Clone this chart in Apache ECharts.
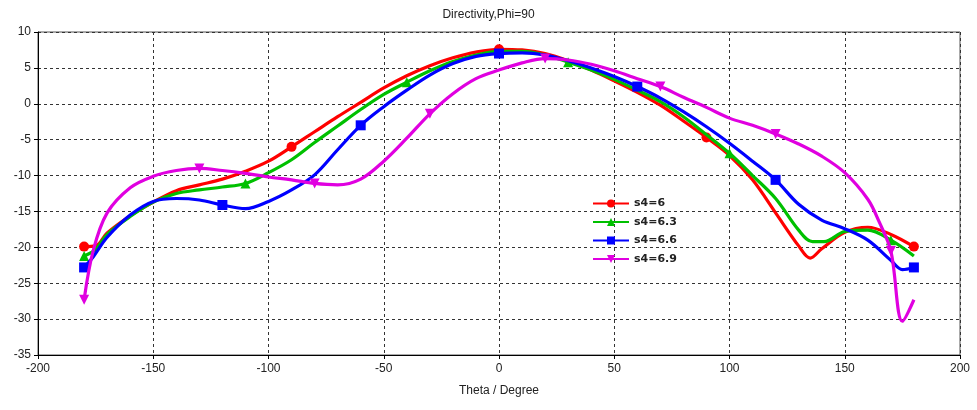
<!DOCTYPE html>
<html>
<head>
<meta charset="utf-8">
<script src="https://cdn.jsdelivr.net/npm/echarts@6/dist/echarts.min.js"></script>
<style>html,body{margin:0;padding:0;background:#fff;}#c{width:977px;height:410px;}</style>
</head>
<body>
<div id="c"></div>
<script>
var seriesNames = ['s4=6', 's4=6.3', 's4=6.6', 's4=6.9'];
var xTicks = [-200, -150, -100, -50, 0, 50, 100, 150, 200];
var yTicks = [-35, -30, -25, -20, -15, -10, -5, 0, 5, 10];

var theta1 = [-180,-175,-170,-160,-150,-140,-130,-120,-110,-100,-90,-80,-70,-60,-50,-40,-30,-20,-10,0,10,20,30,40,50,60,70,80,90,100,110,120,130,135,140,150,160,170,180];
var dir1   = [-19.9,-19.8,-18.0,-15.6,-13.7,-12.1,-11.3,-10.5,-9.4,-8.0,-6.0,-3.9,-1.8,0.2,2.2,3.9,5.3,6.4,7.2,7.6,7.5,7.0,6.0,4.7,3.2,1.6,-0.2,-2.4,-4.7,-7.2,-10.6,-15.2,-19.8,-21.5,-20.2,-17.9,-17.2,-18.2,-19.9];
var marks1 = [-180,-90,0,90,180];

var theta2 = [-180,-175,-170,-160,-150,-140,-130,-120,-110,-100,-90,-80,-70,-60,-50,-40,-30,-20,-10,0,10,20,30,40,50,60,70,80,90,100,110,120,130,136,141,150,160,170,180];
var dir2   = [-21.2,-20.3,-18.2,-15.7,-13.7,-12.5,-12.0,-11.6,-11.1,-9.6,-7.8,-5.4,-3.1,-0.8,1.3,3.0,4.6,5.9,6.8,7.3,7.3,6.8,5.8,4.7,3.4,1.9,0.3,-1.8,-4.3,-6.9,-10.0,-13.2,-17.6,-19.2,-19.2,-17.8,-17.6,-19.0,-21.2];
var marks2 = [-180,-110,-40,30,100,170];

var theta3 = [-180,-176,-170,-160,-150,-140,-130,-120,-110,-100,-90,-80,-70,-60,-50,-40,-30,-20,-10,0,10,20,30,40,50,60,70,80,90,100,110,120,130,140,150,160,170,175,180];
var dir3   = [-22.8,-21.3,-18.6,-15.5,-13.6,-13.2,-13.4,-14.1,-14.6,-13.6,-12.0,-9.9,-6.4,-3.0,-0.4,1.9,4.0,5.6,6.6,7.0,7.1,6.8,6.0,5.0,3.8,2.4,0.8,-1.1,-3.2,-5.5,-8.0,-10.6,-14.0,-16.2,-17.4,-19.0,-21.8,-23.1,-22.8];
var marks3 = [-180,-120,-60,0,60,120,180];

var theta4 = [-180,-176,-170,-160,-150,-140,-130,-120,-110,-100,-90,-80,-70,-60,-50,-40,-30,-20,-10,0,10,20,30,40,50,60,70,80,90,100,110,120,130,140,150,160,165,170,175,180];
var dir4   = [-27.3,-20.4,-15.2,-11.7,-10.1,-9.3,-9.0,-9.3,-9.7,-10.2,-10.6,-11.1,-11.3,-10.5,-8.0,-4.8,-1.4,1.4,3.5,4.7,5.7,6.3,6.1,5.5,4.6,3.5,2.4,0.9,-0.5,-2.0,-3.0,-4.2,-5.6,-7.3,-9.6,-13.3,-16.5,-20.5,-30.3,-27.3];
var marks4 = [-180,-130,-80,-30,20,70,120,170];

var colors = ['#ff0000', '#00c000', '#0000ff', '#e000e0'];
var symbols = ['circle', 'triangle', 'rect', 'triangle'];
var rotations = [0, 0, 0, 180];

function build(th, v, marks) {
  return th.map(function (t, i) {
    var item = { value: [t, v[i]] };
    if (marks.indexOf(t) < 0) item.symbol = 'none';
    return item;
  });
}
var all = [[theta1, dir1, marks1], [theta2, dir2, marks2], [theta3, dir3, marks3], [theta4, dir4, marks4]];

var chart = echarts.init(document.getElementById('c'));
var series = all.map(function (s, k) {
  return {
    name: seriesNames[k],
    type: 'line',
    smooth: 0.35,
    data: build(s[0], s[1], s[2]),
    symbol: symbols[k],
    symbolRotate: rotations[k],
    symbolSize: 10,
    showAllSymbol: true,
    lineStyle: { color: colors[k], width: 3.2 },
    itemStyle: { color: colors[k] },
    z: 2 + k,
    animation: false
  };
});

chart.setOption({
  animation: false,
  backgroundColor: '#fff',
  title: {
    text: 'Directivity,Phi=90',
    left: 'center',
    top: 4,
    textStyle: { fontFamily: 'Liberation Sans', fontSize: 12, fontWeight: 'normal', color: '#222' }
  },
  legend: {
    orient: 'vertical',
    left: 587,
    top: 193,
    itemWidth: 36,
    itemHeight: 10,
    itemGap: 7.5,
    textStyle: { fontFamily: 'DejaVu Sans', fontSize: 11, fontWeight: 'bold', color: '#222' },
    data: seriesNames
  },
  grid: {
    left: 38, right: 17, top: 32, bottom: 55,
    show: true, borderColor: '#555', borderWidth: 1, containLabel: false
  },
  xAxis: {
    type: 'value',
    min: xTicks[0], max: xTicks[xTicks.length - 1], interval: 50,
    name: 'Theta / Degree',
    nameLocation: 'middle',
    nameGap: 30,
    nameTextStyle: { fontFamily: 'Liberation Sans', fontSize: 12, color: '#222' },
    axisLine: { onZero: false, lineStyle: { color: '#000' } },
    axisTick: { show: true, length: 4, lineStyle: { color: '#000' } },
    axisLabel: { fontFamily: 'Liberation Sans', fontSize: 12, color: '#222', margin: 8 },
    splitLine: { show: true, lineStyle: { color: '#333', type: [3, 3], width: 1 } }
  },
  yAxis: {
    type: 'value',
    min: yTicks[0], max: yTicks[yTicks.length - 1], interval: 5,
    axisLine: { show: true, onZero: false, lineStyle: { color: '#000' } },
    axisTick: { show: true, length: 4, lineStyle: { color: '#000' } },
    axisLabel: { fontFamily: 'Liberation Sans', fontSize: 12, color: '#222', margin: 7 },
    splitLine: { show: true, lineStyle: { color: '#333', type: [3, 3], width: 1 } }
  },
  series: series
});
</script>
</body>
</html>
